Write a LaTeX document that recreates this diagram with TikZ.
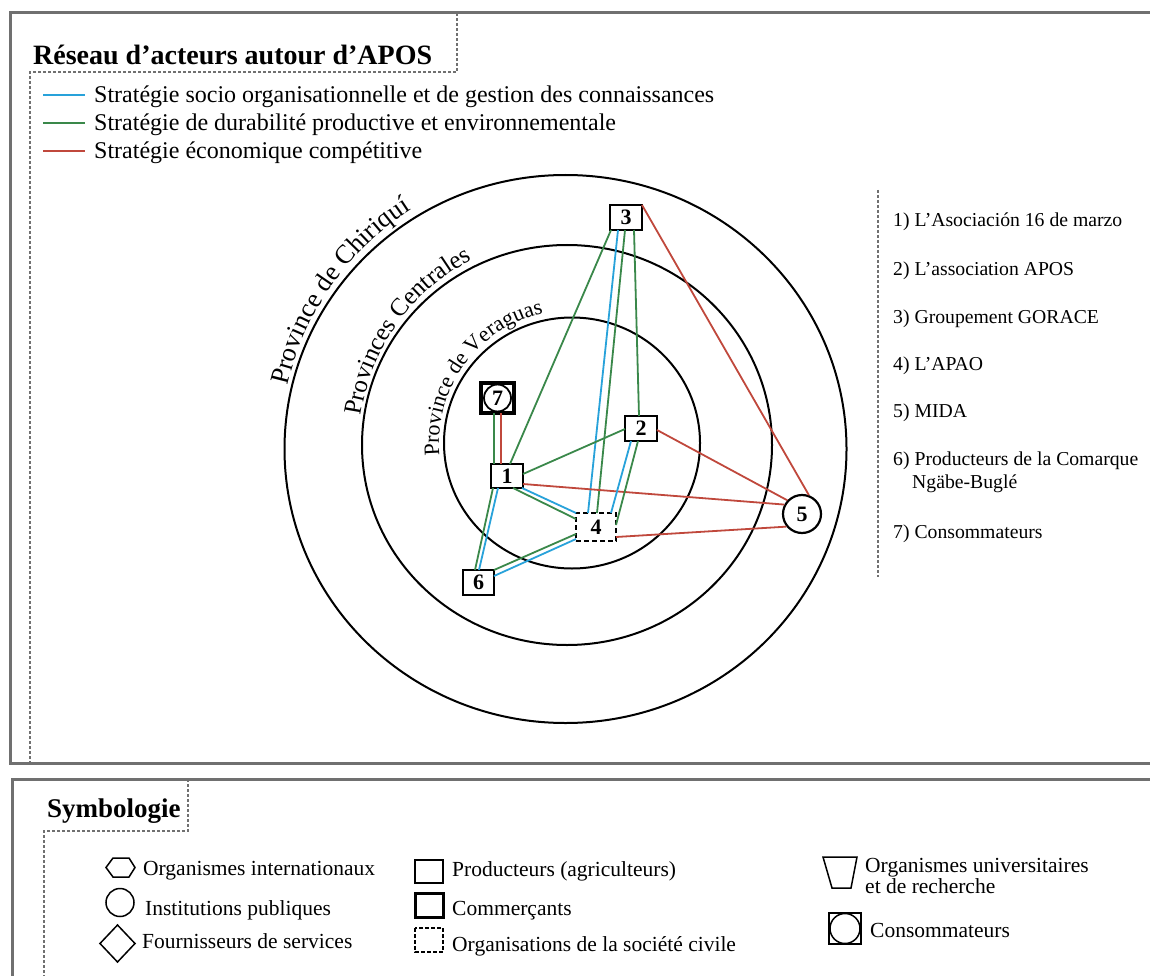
\documentclass[tikz,border=0pt]{standalone}
\usepackage{fontspec}
\setmainfont{Liberation Serif}
\usetikzlibrary{decorations.text}
\definecolor{sblue}{RGB}{40,162,218}
\definecolor{sgreen}{RGB}{58,136,74}
\definecolor{sred}{RGB}{192,72,60}
\definecolor{framegray}{RGB}{112,112,112}
\newcommand{\myfs}[1]{\fontsize{#1}{#1}\selectfont}
\begin{document}
\begin{tikzpicture}[x=1pt, y=-1pt,
  frm/.style={draw=framegray, line width=3pt},
  dsh/.style={draw=framegray, line width=2pt, dash pattern=on 3pt off 2pt},
  gl/.style={draw=sgreen, line width=1.8pt},
  bl/.style={draw=sblue, line width=1.8pt},
  rl/.style={draw=sred, line width=1.8pt},
  ring/.style={draw=black, line width=2pt},
  actor/.style={draw=black, line width=2.2pt, fill=white, inner sep=0pt, font=\bfseries\myfs{22}},
  txt/.style={inner sep=0pt, anchor=base west},
  leg/.style={txt, font=\myfs{24}},
  lst/.style={txt, font=\myfs{19.7}},
  sym/.style={txt, font=\myfs{21.5}},
  symshape/.style={draw=black, line width=1.5pt}]
\useasboundingbox (0,0) rectangle (1150,976);
\clip (0,0) rectangle (1150,976);
\fill[white] (0,0) rectangle (1150,976);

% frames
\draw[frm] (10,13) rectangle (1175,763);
\draw[frm] (12,779) rectangle (1175,1010);
\draw[dsh] (457,13) -- (457,72) -- (30,72) -- (30,763);
\draw[dsh] (188,779) -- (188,831) -- (44,831) -- (44,1010);

% title and legend
\node[txt, font=\bfseries\myfs{28}] (title) at (33,65) {Réseau d’acteurs autour d’APOS};
\draw[bl, line width=2.2pt] (43,95) -- (85,95);
\draw[gl, line width=2.2pt] (43,123) -- (85,123);
\draw[rl, line width=2.2pt] (43,151) -- (85,151);
\node[leg] (lg1) at (94,103) {Stratégie socio organisationnelle et de gestion des connaissances};
\node[leg] (lg2) at (94,131) {Stratégie de durabilité productive et environnementale};
\node[leg] (lg3) at (94,159) {Stratégie économique compétitive};

% rings
\draw[ring] (565.5,449) ellipse [x radius=281, y radius=274];
\draw[ring] (567,445) ellipse [x radius=205, y radius=200];
\draw[ring] (572,443) ellipse [x radius=128, y radius=125.5];

\begin{scope}[shift={(565.5,449)}, y=1pt]
\path[decorate, decoration={text along path, text align=center,
  text={|\myfs{26.5}|Province de Chiriquí}}] (185:285) arc[start angle=185, end angle=105, radius=285];
\end{scope}
\begin{scope}[shift={(567,445)}, y=1pt]
\path[decorate, decoration={text along path, text align=center,
  text={|\myfs{25}|Provinces Centrales}}] (185:208) arc[start angle=185, end angle=104, radius=208];
\end{scope}
\begin{scope}[shift={(572,443)}, y=1pt]
\path[decorate, decoration={text along path, text align=center,
  text={|\myfs{22}|Province de Veraguas}}] (200:133) arc[start angle=200, end angle=88, radius=133];
\end{scope}

% actors
\node[actor, minimum width=32, minimum height=24] (n1) at (507,476) {1};
\node[actor, minimum width=32, minimum height=25] (n2) at (641,428.5) {2};
\node[actor, minimum width=32, minimum height=25] (n3) at (626,217.5) {3};
\node[actor, dash pattern=on 5pt off 3pt, minimum width=40, minimum height=28] (n4) at (596,527) {4};
\node[actor, circle, minimum size=38] (n5) at (802,514) {5};
\node[actor, minimum width=31, minimum height=25] (n6) at (478.5,582.5) {6};
\node[actor, line width=3.5pt, minimum width=33, minimum height=30] (n7) at (497.5,398) {};
\node[actor, circle, line width=1.8pt, minimum size=27] (n7c) at (n7.center) {7};

% links
\draw[gl] ([shift={(-3.5,15)}]n7.center) -- ([shift={(-13,-12)}]n1.center);
\draw[rl] ([shift={(3.5,15)}]n7.center) -- ([shift={(-6,-12)}]n1.center);
\draw[gl] ([shift={(3,-12)}]n1.center) -- ([shift={(-15,12.5)}]n3.center);
\draw[bl] ([shift={(-8,12.5)}]n3.center) -- ([shift={(-8,-14)}]n4.center);
\draw[gl] ([shift={(-1,12.5)}]n3.center) -- ([shift={(1,-14)}]n4.center);
\draw[gl] ([shift={(8,12.5)}]n3.center) -- ([shift={(-2,-12.5)}]n2.center);
\draw[rl] ([shift={(16,-12.5)}]n3.center) -- (n5.70);
\draw[gl] ([shift={(16,-2)}]n1.center) -- ([shift={(-16,0.5)}]n2.center);
\draw[rl] ([shift={(16,1.5)}]n2.center) -- (n5.137);
\draw[rl] ([shift={(16,8)}]n1.center) -- (n5.152);
\draw[rl] ([shift={(20,10)}]n4.center) -- (n5.219);
\draw[bl] ([shift={(-10,12.5)}]n2.center) -- ([shift={(15,-14)}]n4.center);
\draw[gl] ([shift={(-3,12.5)}]n2.center) -- ([shift={(20,-2)}]n4.center);
\draw[bl] ([shift={(15,12)}]n1.center) -- ([shift={(-20,-14)}]n4.center);
\draw[gl] ([shift={(6,12)}]n1.center) -- ([shift={(-20,-8)}]n4.center);
\draw[gl] ([shift={(-14,12)}]n1.center) -- ([shift={(-3.5,-12.5)}]n6.center);
\draw[bl] ([shift={(-9,12)}]n1.center) -- ([shift={(0.5,-12.5)}]n6.center);
\draw[gl] ([shift={(-20,7)}]n4.center) -- ([shift={(15.5,-12.5)}]n6.center);
\draw[bl] ([shift={(-20,12)}]n4.center) -- ([shift={(15.5,-6.5)}]n6.center);

% list
\draw[dsh] (878,190) -- (878,577);
\node[lst] (l1) at (893,227) {1) L’Asociación 16 de marzo};
\node[lst] (l2) at (893,276) {2) L’association APOS};
\node[lst] (l3) at (893,323) {3) Groupement GORACE};
\node[lst] (l4) at (893,370) {4) L’APAO};
\node[lst] (l5) at (893,417) {5) MIDA};
\node[lst] (l6) at (893,465) {6) Producteurs de la Comarque};
\node[lst] (l6b) at (912,488) {Ngäbe-Buglé};
\node[lst] (l7) at (893,538) {7) Consommateurs};

% symbology
\node[txt, font=\bfseries\myfs{27}] (symt) at (47,817) {Symbologie};
\draw[symshape] (106,867.5) -- (113,858) -- (129,858) -- (135,867.5) -- (129,877) -- (113,877) -- cycle;
\node[sym] (s1) at (143,875) {Organismes internationaux};
\draw[symshape] (120,902.5) circle [radius=14];
\node[sym] (s2) at (145,915) {Institutions publiques};
\draw[symshape] (117.5,925) -- (135,943.5) -- (117.5,962) -- (100,943.5) -- cycle;
\node[sym] (s3) at (142,948) {Fournisseurs de services};
\draw[symshape] (415,860) rectangle (443,883);
\node[sym] (s4) at (452,876) {Producteurs (agriculteurs)};
\draw[symshape, line width=3pt] (415,893) rectangle (443,917);
\node[sym] (s5) at (452,915) {Commerçants};
\draw[symshape, dash pattern=on 4pt off 2pt] (415,928) rectangle (443,952);
\node[sym] (s6) at (452,951) {Organisations de la société civile};
\draw[symshape] (823,857) -- (857,857) -- (851,888) -- (832,888) -- cycle;
\node[sym] (s7) at (865,872) {Organismes universitaires};
\node[sym] (s7b) at (865,893) {et de recherche};
\draw[symshape] (829,913) rectangle (861,944);
\draw[symshape] (845,928.5) circle [radius=15];
\node[sym] (s8) at (870,937) {Consommateurs};
\end{tikzpicture}
\end{document}
